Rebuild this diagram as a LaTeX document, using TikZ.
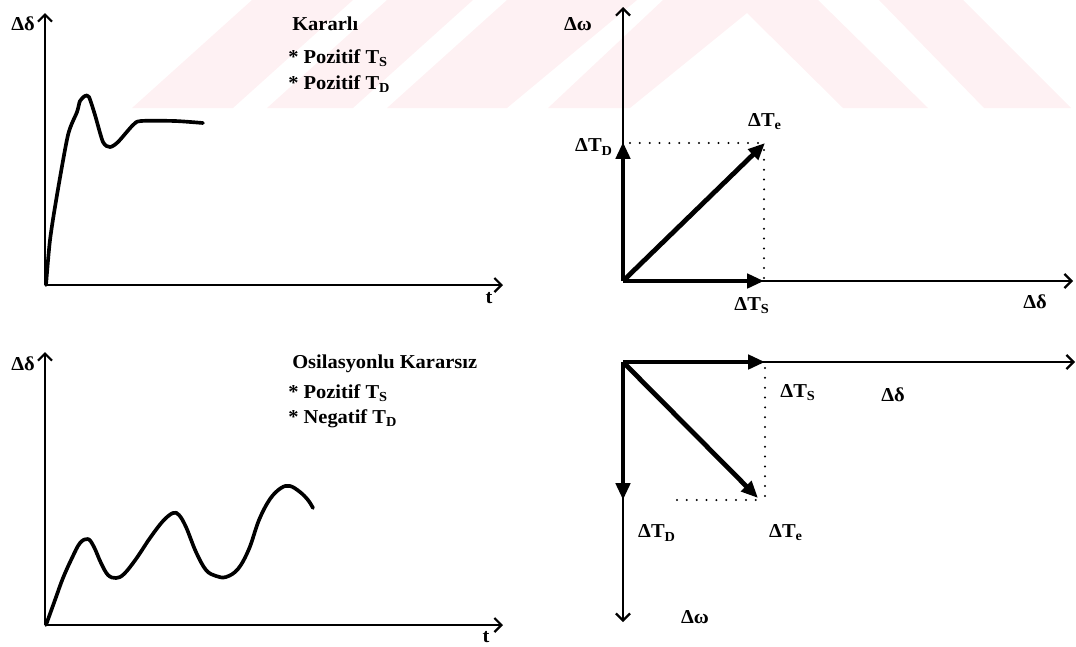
\documentclass[tikz,border=0pt]{standalone}
\usepackage{fontspec}
\setmainfont{Liberation Serif}[FakeStretch=1.04]
\usetikzlibrary{arrows.meta}
\definecolor{wmpink}{RGB}{254,241,243}
\tikzset{
  axis/.style={line width=1.6pt, -{Straight Barb[length=5pt,width=10pt,line width=1.6pt]}},
  vec/.style={line width=3.4pt, -{Triangle[length=12pt,width=10pt]}},
  resp/.style={line width=2.6pt, line join=round, line cap=round},
  guide/.style={line width=1.6pt, line cap=round, dash pattern=on 0pt off 7pt},
  lbl/.style={font=\bfseries\fontsize{14}{16}\selectfont, inner sep=0pt},
}

\begin{document}
\begin{tikzpicture}[x=0.25mm, y=-0.25mm]
        \useasboundingbox (0,0) rectangle (1076,646);

        % faint watermark stripes
        \fill[wmpink] (132,108) -- (233,108) -- (353,0) -- (252,0) -- cycle;
        \fill[wmpink] (267,108) -- (353,108) -- (473,0) -- (387,0) -- cycle;
        \fill[wmpink] (387,108) -- (507,108) -- (637,0) -- (507,0) -- cycle;
        \fill[wmpink] (548,108) -- (663,0) -- (818,0) -- (928,108) -- (843,108) -- (747,13) -- (630,108) -- cycle;
        \fill[wmpink] (984,108) -- (1071,108) -- (963,0) -- (879,0) -- cycle;

        % stable response
        \begin{scope}
            \coordinate (oA) at (45,285);
            \coordinate (yA) at (45,13);
            \coordinate (xA) at (503,285);
            \draw[axis] (oA) -- (yA);
            \draw[axis] (oA) -- (xA);
            \node[lbl] (dA) at (23,24) {Δδ};
            \node[lbl] (tA) at (489,298) {t};
            \draw[resp] plot[smooth, tension=0.45] coordinates {(46,285) (50,240) (57,195) (68,135) (77,112) (80,101) (85,96) (89,97) (95,115) (103,142) (110,147) (118,142) (133,125) (141,121) (175,121) (203,123)};
            \node[lbl, anchor=base west] (kA) at (292,30) {Kararlı};
            \node[lbl, anchor=base west] (sA) at (288,63) {* Pozitif T\textsubscript{S}};
            \node[lbl, anchor=base west] (pA) at (288,89) {* Pozitif T\textsubscript{D}};
        \end{scope}

        % stable phasors
        \begin{scope}
            \coordinate (oB) at (623,281);
            \coordinate (wB) at (623,7);
            \coordinate (xB) at (1073,281);
            \coordinate (sB) at (764,281);
            \coordinate (tB) at (623,142);
            \coordinate (eB) at (765,143);
            \draw[axis] (oB) -- (wB);
            \draw[axis] (oB) -- (xB);
            \draw[guide] (630,143) -- (eB);
            \draw[guide] (764,150) -- (sB);
            \draw[vec] (oB) -- (sB);
            \draw[vec] (oB) -- (tB);
            \draw[vec] (oB) -- (eB);
            \node[lbl] (lwB) at (578,24) {Δω};
            \node[lbl] (ltB) at (594,147) {ΔT\textsubscript{D}};
            \node[lbl] (leB) at (765,122) {ΔT\textsubscript{e}};
            \node[lbl] (lsB) at (752,306) {ΔT\textsubscript{S}};
            \node[lbl] (ldB) at (1035,302) {Δδ};
        \end{scope}

        % oscillatory unstable response
        \begin{scope}
            \coordinate (oC) at (45,625);
            \coordinate (yC) at (45,352);
            \coordinate (xC) at (503,625);
            \draw[axis] (oC) -- (yC);
            \draw[axis] (oC) -- (xC);
            \node[lbl] (dC) at (23,364) {Δδ};
            \node[lbl] (tC) at (486,637) {t};
            \draw[resp] plot[smooth, tension=0.6] coordinates {(46,625) (55,600) (63,578) (72,558) (80,543) (88,539) (94,547) (101,563) (108,575) (116,578) (124,574) (136,559) (150,538) (163,521) (173,513) (179,515) (186,527) (196,552) (206,570) (216,576) (226,577) (238,569) (249,549) (259,520) (270,499) (281,488) (290,486) (300,492) (308,500) (313,508)};
            \node[lbl, anchor=base west] (kC) at (292,368) {Osilasyonlu Kararsız};
            \node[lbl, anchor=base west] (sC) at (288,398) {* Pozitif T\textsubscript{S}};
            \node[lbl, anchor=base west] (nC) at (288,423) {* Negatif T\textsubscript{D}};
        \end{scope}

        % unstable phasors
        \begin{scope}
            \coordinate (oD) at (623,362);
            \coordinate (wD) at (623,622);
            \coordinate (xD) at (1075,362);
            \coordinate (sD) at (765,362);
            \coordinate (tD) at (623,500);
            \coordinate (eD) at (758,498);
            \draw[axis] (oD) -- (wD);
            \draw[axis] (oD) -- (xD);
            \draw[guide] (677,500) -- (765,500);
            \draw[guide] (765,368) -- (765,500);
            \draw[vec] (oD) -- (sD);
            \draw[vec] (oD) -- (tD);
            \draw[vec] (oD) -- (eD);
            \node[lbl] (lsD) at (798,393) {ΔT\textsubscript{S}};
            \node[lbl] (ldD) at (893,395) {Δδ};
            \node[lbl] (ltD) at (657,533) {ΔT\textsubscript{D}};
            \node[lbl] (leD) at (786,533) {ΔT\textsubscript{e}};
            \node[lbl] (lwD) at (695,617) {Δω};
        \end{scope}
    \end{tikzpicture}
\end{document}
